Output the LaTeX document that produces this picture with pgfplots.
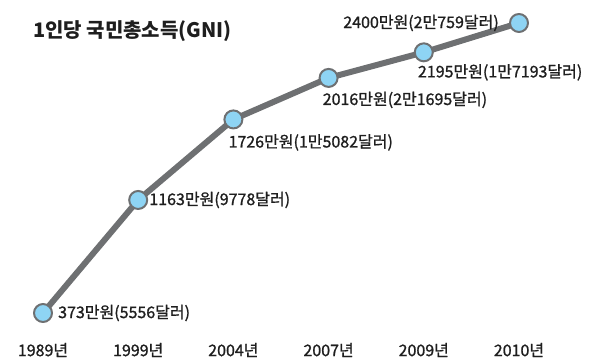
\documentclass[border=0pt]{standalone}
\usepackage{pgfplots}
\pgfplotsset{compat=1.18}
\usepackage{fontspec}
\setmainfont{Noto Sans CJK KR}
\newfontfamily\med[FakeBold=1.2]{Noto Sans CJK KR}
\definecolor{linegray}{HTML}{6E7072}
\definecolor{dotblue}{HTML}{8ED4F4}
\definecolor{txt}{HTML}{1E1E1E}
\begin{document}
\begin{tikzpicture}
\begin{axis}[
  scale only axis, width=590pt, height=364pt,
  xmin=-0.4517, xmax=5.746,
  ymin=16.6, ymax=2560.7,
  axis line style={draw=none},
  tick style={draw=none},
  ytick=\empty,
  xtick={0,1,2,3,4,5},
  xticklabels={1989년,1999년,2004년,2007년,2009년,2010년},
  xticklabel style={anchor=center, yshift=14pt, font=\med\fontsize{16}{18}\selectfont, text=txt},
  clip=false,
]
\addplot[color=linegray, line width=6pt, line join=round,
  mark=*, mark size=9pt,
  mark options={fill=dotblue, draw=linegray, line width=2pt}]
  coordinates {(0,373) (1,1163) (2,1726) (3,2016) (4,2195) (5,2400)};
\begin{scope}[every node/.style={font=\med\fontsize{16}{18}\selectfont, text=txt, inner sep=0pt}]
\node[anchor=west] at (axis cs:0,373) [xshift=15pt] {373만원(5556달러)};
\node[anchor=west] at (axis cs:1,1163) [xshift=11pt] {1163만원(9778달러)};
\node[anchor=west] at (axis cs:2,1726) [xshift=-5pt, yshift=-23pt] {1726만원(1만5082달러)};
\node[anchor=west] at (axis cs:3,2016) [xshift=-6pt, yshift=-22pt] {2016만원(2만1695달러)};
\node[anchor=west] at (axis cs:4,2195) [xshift=-6pt, yshift=-20pt] {2195만원(1만7193달러)};
\node[anchor=east] at (axis cs:5,2400) [xshift=-20pt] {2400만원(2만759달러)};
\end{scope}
\node[anchor=west, font=\fontsize{20}{22}\bfseries, text=txt, inner sep=0pt] at (rel axis cs:0,1) [xshift=33pt, yshift=-31pt] {1인당 국민총소득(GNI)};
\end{axis}
\end{tikzpicture}
\end{document}
